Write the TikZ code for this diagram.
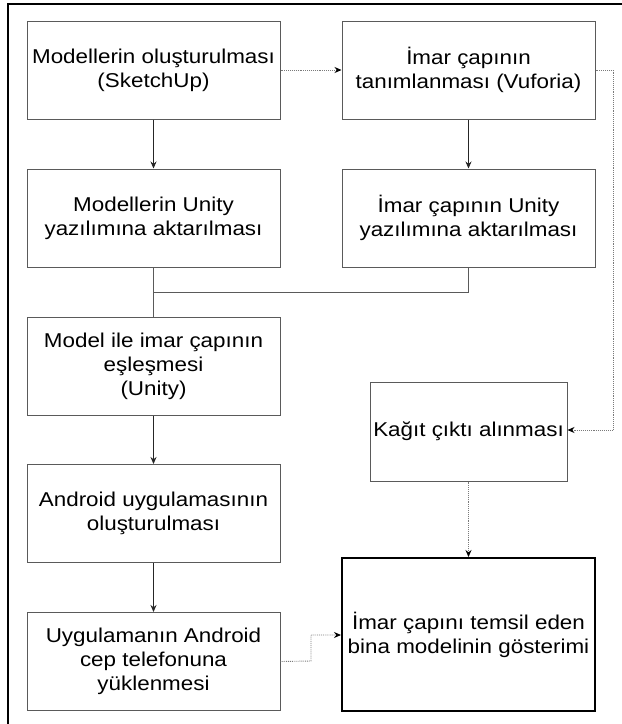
\documentclass[tikz,border=0pt]{standalone}
\usepackage{fontspec}
\setmainfont{Liberation Sans}[FakeStretch=1.12]
\usetikzlibrary{arrows.meta}
\definecolor{boxgray}{HTML}{5A5A5A}
\definecolor{dotgray}{HTML}{7A7A7A}
\begin{document}
\begin{tikzpicture}[x=1pt,y=-1pt,
  stepbox/.style={draw=boxgray,line width=1pt,rectangle,minimum width=253pt,minimum height=98pt,
    inner sep=0pt,align=center,font=\fontsize{20}{24}\selectfont,text=black},
  finalbox/.style={stepbox,draw=black,line width=2pt,minimum width=253pt,minimum height=153pt},
  solidarrow/.style={draw=black!85,line width=0.9pt,-{Stealth[length=7pt,width=6pt]}},
  solidline/.style={draw=boxgray,line width=1pt},
  dotarrow/.style={draw=dotgray,line width=0.9pt,densely dotted,-{Stealth[length=7pt,width=6pt,fill=black,color=black]}}
]
\useasboundingbox (0,0) rectangle (622,724);
\fill[white] (0,0) rectangle (622,724);
% outer frame (cropped on right and bottom)
\draw[line width=2pt,black] (8,724) -- (8,4) -- (622,4);

\node[stepbox] (b1) at (153.5,70) {Modellerin oluşturulması\\(SketchUp)};
\node[stepbox] (b2) at (468.5,70) {İmar çapının\\tanımlanması (Vuforia)};
\node[stepbox] (b3) at (153.5,218) {Modellerin Unity\\yazılımına aktarılması};
\node[stepbox] (b4) at (468.5,218) {İmar çapının Unity\\yazılımına aktarılması};
\node[stepbox] (b5) at (153.5,366) {Model ile imar çapının\\eşleşmesi\\(Unity)};
\node[stepbox] (b6) at (153.5,513.5) {Android uygulamasının\\oluşturulması};
\node[stepbox] (b7) at (153.5,661.5) {Uygulamanın Android\\cep telefonuna\\yüklenmesi};
\node[stepbox,minimum width=197pt,minimum height=99pt] (k) at (468.5,431.5) {Kağıt çıktı alınması};
\node[finalbox] (f) at (468.5,634.5) {İmar çapını temsil eden\\bina modelinin gösterimi};

\coordinate (j) at (153.5,292);
\coordinate (rt) at (613,70);
\coordinate (rb) at (613,430);
\coordinate (m1) at (311,661);
\coordinate (m2) at (311,635);

\draw[solidarrow] (b1) -- (b3);
\draw[solidarrow] (b2) -- (b4);
\draw[solidline] (b3.south) -- (b5.north);
\draw[solidline] (b4.south) |- (j);
\draw[solidarrow] (b5) -- (b6);
\draw[solidarrow] (b6) -- (b7);

\draw[dotarrow] (b1.east) -- (b2.west);
\draw[dotarrow] (b2.east) -- (rt) -- (rb) -- (rb -| k.east);
\draw[dotarrow] (k.south) -- (f.north);
\draw[dotarrow] (b7.east) -- (m1) -- (m2) -- (m2 -| f.west);
\end{tikzpicture}
\end{document}
